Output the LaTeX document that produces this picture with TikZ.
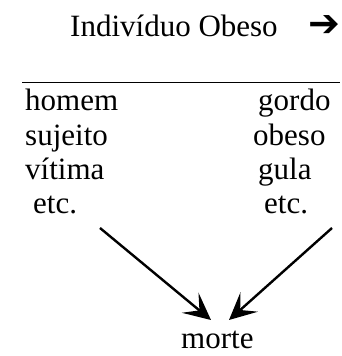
\documentclass[tikz,border=0pt]{standalone}
\usepackage{fontspec}
\setmainfont{Liberation Serif}
\newfontfamily\symfont{DejaVu Sans}
\usetikzlibrary{arrows.meta}
\tikzset{
  word/.style={anchor=base west, inner sep=0pt, font=\fontsize{31}{35}\selectfont},
  flow/.style={line width=2.4pt, -{Stealth[length=27pt,width=26pt,inset=12pt]}}
}
\begin{document}
\begin{tikzpicture}[x=1pt,y=1pt]
\useasboundingbox (0,0) rectangle (342,356);
\node[word] (title) at (70,319) {Indivíduo Obeso};
\node[inner sep=0pt, font=\symfont\bfseries\fontsize{38}{38}\selectfont] (arr) at (324,330) {➔};
\coordinate (l1) at (22,273);
\coordinate (l2) at (340,273);
\draw[line width=1pt] (l1) -- (l2);
\node[word] (homem) at (25,245) {homem};
\node[word] (sujeito) at (25,210) {sujeito};
\node[word] (vitima) at (25,176) {vítima};
\node[word] (etcl) at (33,142) {etc.};
\node[word] (gordo) at (258,245) {gordo};
\node[word] (obeso) at (253,210) {obeso};
\node[word] (gula) at (258,176) {gula};
\node[word] (etcr) at (264,142) {etc.};
\node[word] (morte) at (181,8) {morte};
\coordinate (a1) at (100,128);
\coordinate (a2) at (211,36);
\coordinate (b1) at (332,128);
\coordinate (b2) at (229,36);
\draw[flow] (a1) -- (a2);
\draw[flow] (b1) -- (b2);
\end{tikzpicture}
\end{document}
